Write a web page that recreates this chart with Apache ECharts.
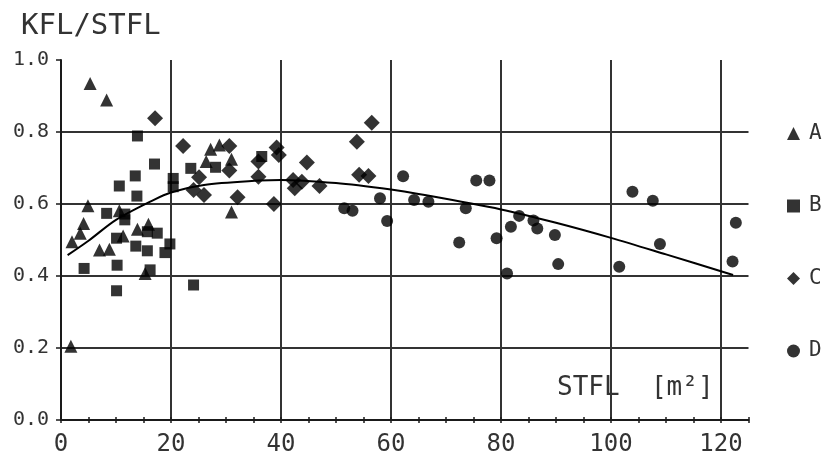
<!DOCTYPE html>
<html>
<head>
<meta charset="utf-8">
<script src="https://cdn.jsdelivr.net/npm/echarts@6/dist/echarts.min.js"></script>
<style>
    html, body { margin: 0; padding: 0; background: #fff; }
    #chart { width: 824px; height: 457px; }
</style>
</head>
<body>
<div id="chart"></div>
<script>
// Gruppe A (Dreiecke)
var groupA = [[5.3,0.935],[8.3,0.889],[27.2,0.752],[28.8,0.764],[26.4,0.718],[31.0,0.724],[31.0,0.578],
    [4.9,0.595],[10.6,0.581],[4.1,0.546],[3.5,0.519],[2.0,0.495],[7.0,0.472],[8.8,0.474],[11.3,0.511],
    [13.9,0.53],[15.9,0.544],[15.3,0.407],[1.8,0.205]]
// Gruppe B (Quadrate)
var groupB = [[13.9,0.789],[17.0,0.711],[13.5,0.678],[10.6,0.65],[13.8,0.622],[20.4,0.671],[20.4,0.648],
    [23.6,0.699],[28.1,0.702],[36.5,0.732],[8.3,0.574],[11.6,0.572],[11.6,0.556],[4.2,0.421],[10.1,0.505],
    [10.2,0.43],[10.1,0.359],[15.7,0.523],[17.5,0.519],[13.6,0.483],[15.7,0.47],[18.9,0.465],[19.8,0.489],
    [16.2,0.417],[24.1,0.375]]
// Gruppe C (Rauten)
var groupC = [[17.1,0.838],[22.2,0.761],[30.6,0.761],[30.6,0.693],[35.9,0.718],[25.1,0.674],[24.1,0.639],
    [26.0,0.625],[32.1,0.619],[35.9,0.676],[56.5,0.826],[53.8,0.773],[39.2,0.757],[39.6,0.736],[44.7,0.715],
    [42.2,0.667],[42.5,0.644],[43.8,0.662],[47.0,0.65],[54.2,0.681],[55.9,0.678],[38.7,0.6]]
// Gruppe D (Kreise)
var groupD = [[51.5,0.588],[53.0,0.581],[58.0,0.616],[59.3,0.553],[62.2,0.677],[64.2,0.611],[66.8,0.606],
    [75.5,0.665],[77.9,0.665],[73.6,0.588],[72.4,0.493],[79.2,0.505],[83.3,0.567],[81.8,0.537],[85.9,0.554],
    [86.6,0.532],[89.8,0.514],[81.1,0.407],[90.4,0.433],[101.5,0.426],[103.9,0.634],[107.6,0.609],
    [108.9,0.489],[122.7,0.548],[122.1,0.44]]
// Ausgleichskurve
var fitCurve = [[1.2,0.458],[5,0.498],[10,0.556],[16.8,0.611],[20,0.632],[26,0.653],[36,0.665],[40,0.667],
    [50,0.658],[60,0.64],[65,0.628],[80,0.585],[90,0.548],[100,0.506],[110,0.46],[122.2,0.403]]
var groupNames = ['A', 'B', 'C', 'D']
var xLabels = [0, 20, 40, 60, 80, 100, 120]

var mono = '"DejaVu Sans Mono", monospace'
var ink = '#1a1a1a'

// vertikale Gitterlinien nur bei 20, 40, ... (Ticks alle 5)
var vColors = []
for (var v = 0; v <= 125; v += 5) {
    vColors.push(v > 0 && v % 20 === 0 ? '#333' : 'rgba(0,0,0,0)')
}

var chart = echarts.init(document.getElementById('chart'))
chart.setOption({
    animation: false,
    title: [
        { text: 'KFL/STFL', left: 16, top: 7, textStyle: { fontFamily: mono, fontSize: 29, fontWeight: 'normal', color: '#333' } },
        { text: 'STFL  [m²]', left: 552, top: 370, textStyle: { fontFamily: mono, fontSize: 26, fontWeight: 'normal', color: '#333' } }
    ],
    grid: { left: 61, right: 75.5, top: 60, bottom: 37 },
    legend: {
        orient: 'vertical',
        left: 782,
        top: 117,
        itemWidth: 13,
        itemHeight: 13,
        itemGap: 49.5,
        data: groupNames,
        textStyle: { fontFamily: mono, fontSize: 21, lineHeight: 23, color: '#333', padding: [0, 0, 0, 4] }
    },
    xAxis: [
        {
            type: 'value', min: 0, max: 125, interval: 5,
            axisLine: { lineStyle: { color: ink, width: 2 } },
            axisTick: { length: 3, lineStyle: { color: ink, width: 1.5 } },
            axisLabel: {
                fontFamily: mono, fontSize: 24, color: '#333', margin: 13,
                formatter: function (val) { return xLabels.indexOf(val) >= 0 ? String(val) : '' }
            },
            splitLine: { show: true, lineStyle: { color: vColors, width: 2 } }
        },
        {
            type: 'value', min: 0, max: 125, interval: 5, position: 'bottom',
            axisLine: { show: false },
            axisTick: { inside: true, length: 3, lineStyle: { color: ink, width: 1.5 } },
            axisLabel: { show: false },
            splitLine: { show: false }
        }
    ],
    yAxis: {
        type: 'value', min: 0, max: 1, interval: 0.2,
        axisLine: { show: true, lineStyle: { color: ink, width: 2 } },
        axisTick: { show: true, length: 5, lineStyle: { color: ink, width: 1.5 } },
        axisLabel: {
            fontFamily: mono, fontSize: 20, color: '#333', margin: 12,
            formatter: function (val) { return val.toFixed(1) }
        },
        splitLine: { show: true, showMaxLine: false, lineStyle: { color: '#333', width: 2 } }
    },
    series: [
        { name: 'A', type: 'scatter', symbol: 'triangle', symbolSize: 13, itemStyle: { color: '#000' }, data: groupA },
        { name: 'B', type: 'scatter', symbol: 'rect', symbolSize: 11, itemStyle: { color: '#000' }, data: groupB },
        { name: 'C', type: 'scatter', symbol: 'diamond', symbolSize: 16, itemStyle: { color: '#000' }, data: groupC },
        { name: 'D', type: 'scatter', symbol: 'circle', symbolSize: 12, itemStyle: { color: '#000' }, data: groupD },
        {
            type: 'line', smooth: 0.3, showSymbol: false,
            lineStyle: { color: '#000', width: 2 },
            data: fitCurve, z: 1
        }
    ]
})
</script>
</body>
</html>
